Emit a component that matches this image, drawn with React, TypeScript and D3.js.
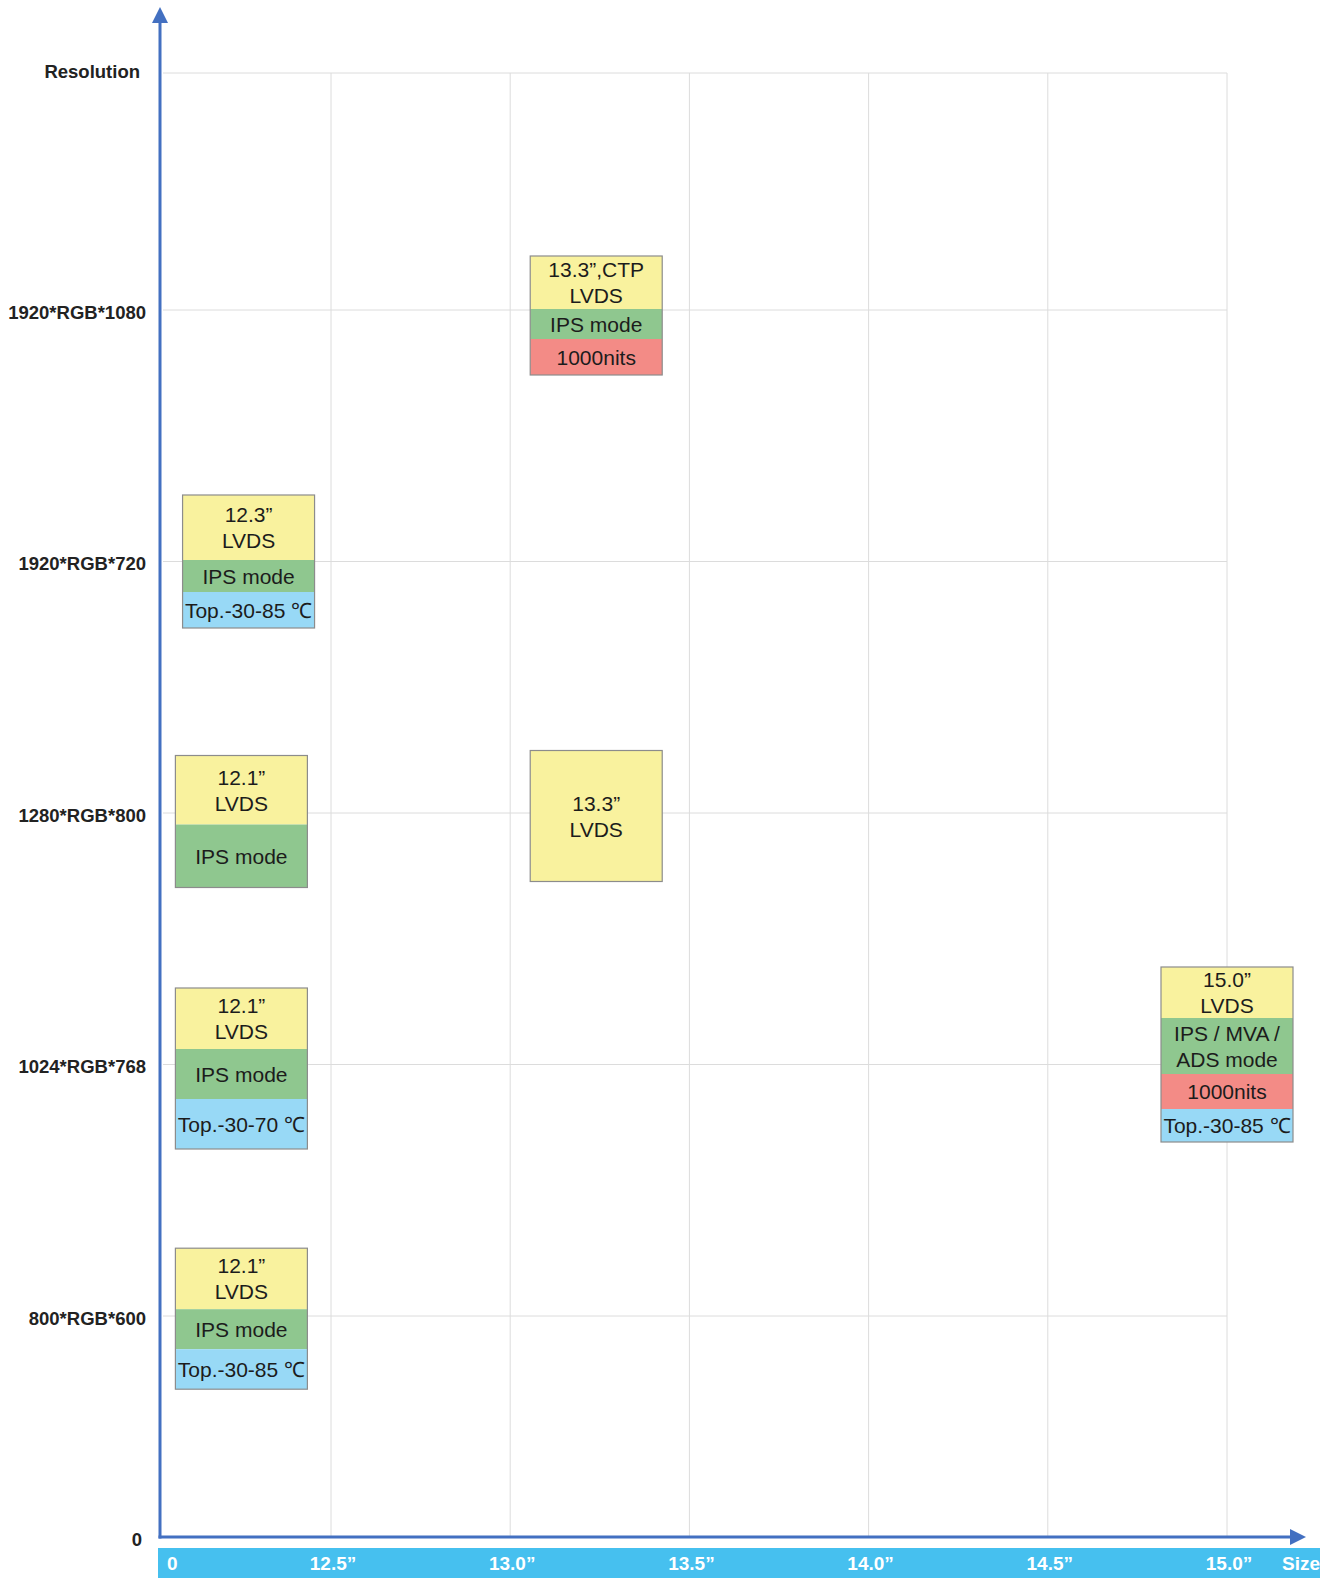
import { useMemo } from "react";
import * as d3 from "d3";

// resolution categories, bottom to top
const resolutions = ["800*RGB*600", "1024*RGB*768", "1280*RGB*800", "1920*RGB*720", "1920*RGB*1080"];
// size ticks in inches
const sizeTicks = [12.5, 13.0, 13.5, 14.0, 14.5, 15.0];
const sizeLabels = ["12.5”", "13.0”", "13.5”", "14.0”", "14.5”", "15.0”"];

type Row = { kind: "size" | "mode" | "bright" | "temp"; lines: string[] };
type Panel = { res: string; at: number; rows: Row[] };

// each panel: which resolution, where along the size axis it sits, and its feature rows
const panels: Panel[] = [
    { res: "1920*RGB*1080", at: 13.24, rows: [
        { kind: "size", lines: ["13.3”,CTP", "LVDS"] },
        { kind: "mode", lines: ["IPS mode"] },
        { kind: "bright", lines: ["1000nits"] },
    ] },
    { res: "1920*RGB*720", at: 12.27, rows: [
        { kind: "size", lines: ["12.3”", "LVDS"] },
        { kind: "mode", lines: ["IPS mode"] },
        { kind: "temp", lines: ["Top.-30-85 ℃"] },
    ] },
    { res: "1024*RGB*768", at: 15.0, rows: [
        { kind: "size", lines: ["15.0”", "LVDS"] },
        { kind: "mode", lines: ["IPS / MVA /", "ADS mode"] },
        { kind: "bright", lines: ["1000nits"] },
        { kind: "temp", lines: ["Top.-30-85 ℃"] },
    ] },
    { res: "1280*RGB*800", at: 12.25, rows: [
        { kind: "size", lines: ["12.1”", "LVDS"] },
        { kind: "mode", lines: ["IPS mode"] },
    ] },
    { res: "1280*RGB*800", at: 13.24, rows: [
        { kind: "size", lines: ["13.3”", "LVDS"] },
    ] },
    { res: "1024*RGB*768", at: 12.25, rows: [
        { kind: "size", lines: ["12.1”", "LVDS"] },
        { kind: "mode", lines: ["IPS mode"] },
        { kind: "temp", lines: ["Top.-30-70 ℃"] },
    ] },
    { res: "800*RGB*600", at: 12.25, rows: [
        { kind: "size", lines: ["12.1”", "LVDS"] },
        { kind: "mode", lines: ["IPS mode"] },
        { kind: "temp", lines: ["Top.-30-85 ℃"] },
    ] },
];

// layout only: row heights and vertical nudge of each panel (px)
const panelRowHeights = [
    [53, 30, 36],
    [65, 32, 36],
    [51, 56, 35, 33],
    [69, 63],
    [131],
    [61, 50, 50],
    [61, 40, 40],
];
const panelNudge = [5.5, 0, -10, 8.5, 3, 4, 2.7];

const rowFill: Record<Row["kind"], string> = {
    size: "#F9F29E",
    mode: "#8FC78F",
    bright: "#F38B86",
    temp: "#98D9F6",
};

const W = 1325;
const H = 1578;
const axisColor = "#4370C1";
const gridColor = "#DCDCDC";
const font = "'Liberation Sans', Arial, Helvetica, sans-serif";

export default function App() {
    const originX = 160;
    const originY = 1537;
    const topY = 73;

    const x = useMemo(() => d3.scaleLinear().domain([12.5, 15]).range([331, 1227]), []);
    const y = useMemo(() => d3.scalePoint<string>().domain(resolutions).range([1316, 310]), []);

    const gridRight = x(15);
    const boxW = 132;
    const lineH = 26;

    return (
        <svg width={W} height={H} style={{ position: "absolute", left: 0, top: 0, background: "#fff" }}>
            {/* grid */}
            <g>
                <line x1={originX + 3} x2={gridRight} y1={topY} y2={topY} stroke={gridColor} />
                {resolutions.map(r => (
                    <line key={r} x1={originX + 3} x2={gridRight} y1={y(r)} y2={y(r)} stroke={gridColor} />
                ))}
                {sizeTicks.map(t => (
                    <line key={t} x1={x(t)} x2={x(t)} y1={topY} y2={originY} stroke={gridColor} />
                ))}
            </g>

            {/* y labels */}
            <g fontFamily={font} fontWeight="bold" fontSize={18.5} fill="#222">
                <text x={140} y={topY - 2} textAnchor="end" dominantBaseline="central">Resolution</text>
                {resolutions.map(r => (
                    <text key={r} x={146} y={(y(r) ?? 0) + 2} textAnchor="end" dominantBaseline="central">{r}</text>
                ))}
                <text x={142} y={originY + 2} textAnchor="end" dominantBaseline="central">0</text>
            </g>

            {/* x label band */}
            <rect x={158} y={1548} width={1162} height={30} fill="#46C0EF" />
            <g fontFamily={font} fontWeight="bold" fontSize={19} fill="#fff">
                <text x={167} y={1563} dominantBaseline="central">0</text>
                {sizeTicks.map((t, i) => (
                    <text key={t} x={x(t) + 2} y={1563} textAnchor="middle" dominantBaseline="central">{sizeLabels[i]}</text>
                ))}
                <text x={1301} y={1563} textAnchor="middle" dominantBaseline="central">Size</text>
            </g>

            {/* axes */}
            <line x1={originX} x2={originX} y1={originY + 1.5} y2={20} stroke={axisColor} strokeWidth={3} />
            <path d={`M${originX},7 L${originX - 8},23 L${originX + 8},23 Z`} fill={axisColor} />
            <line x1={originX - 1.5} x2={1292} y1={originY} y2={originY} stroke={axisColor} strokeWidth={3} />
            <path d={`M1306,${originY} L1290,${originY - 8} L1290,${originY + 8} Z`} fill={axisColor} />

            {/* panels */}
            {panels.map((p, i) => {
                const heights = panelRowHeights[i];
                const total = d3.sum(heights);
                const cx = x(p.at);
                const top = (y(p.res) ?? 0) - total / 2 + panelNudge[i];
                const left = cx - boxW / 2;
                let acc = top;
                return (
                    <g key={i}>
                        {p.rows.map((row, j) => {
                            const h = heights[j];
                            const ry = acc;
                            acc += h;
                            const mid = ry + h / 2;
                            const startY = mid - ((row.lines.length - 1) * lineH) / 2;
                            return (
                                <g key={j}>
                                    <rect x={left} y={ry} width={boxW} height={h} fill={rowFill[row.kind]} />
                                    {row.lines.map((ln, k) => (
                                        <text key={k} x={cx} y={startY + k * lineH} textAnchor="middle"
                                            dominantBaseline="central" fontFamily={font} fontSize={21} fill="#1c1c1c">
                                            {ln}
                                        </text>
                                    ))}
                                </g>
                            );
                        })}
                        <rect x={left} y={top} width={boxW} height={total} fill="none" stroke="#8C8C8C" strokeWidth={1.2} />
                    </g>
                );
            })}
        </svg>
    );
}
